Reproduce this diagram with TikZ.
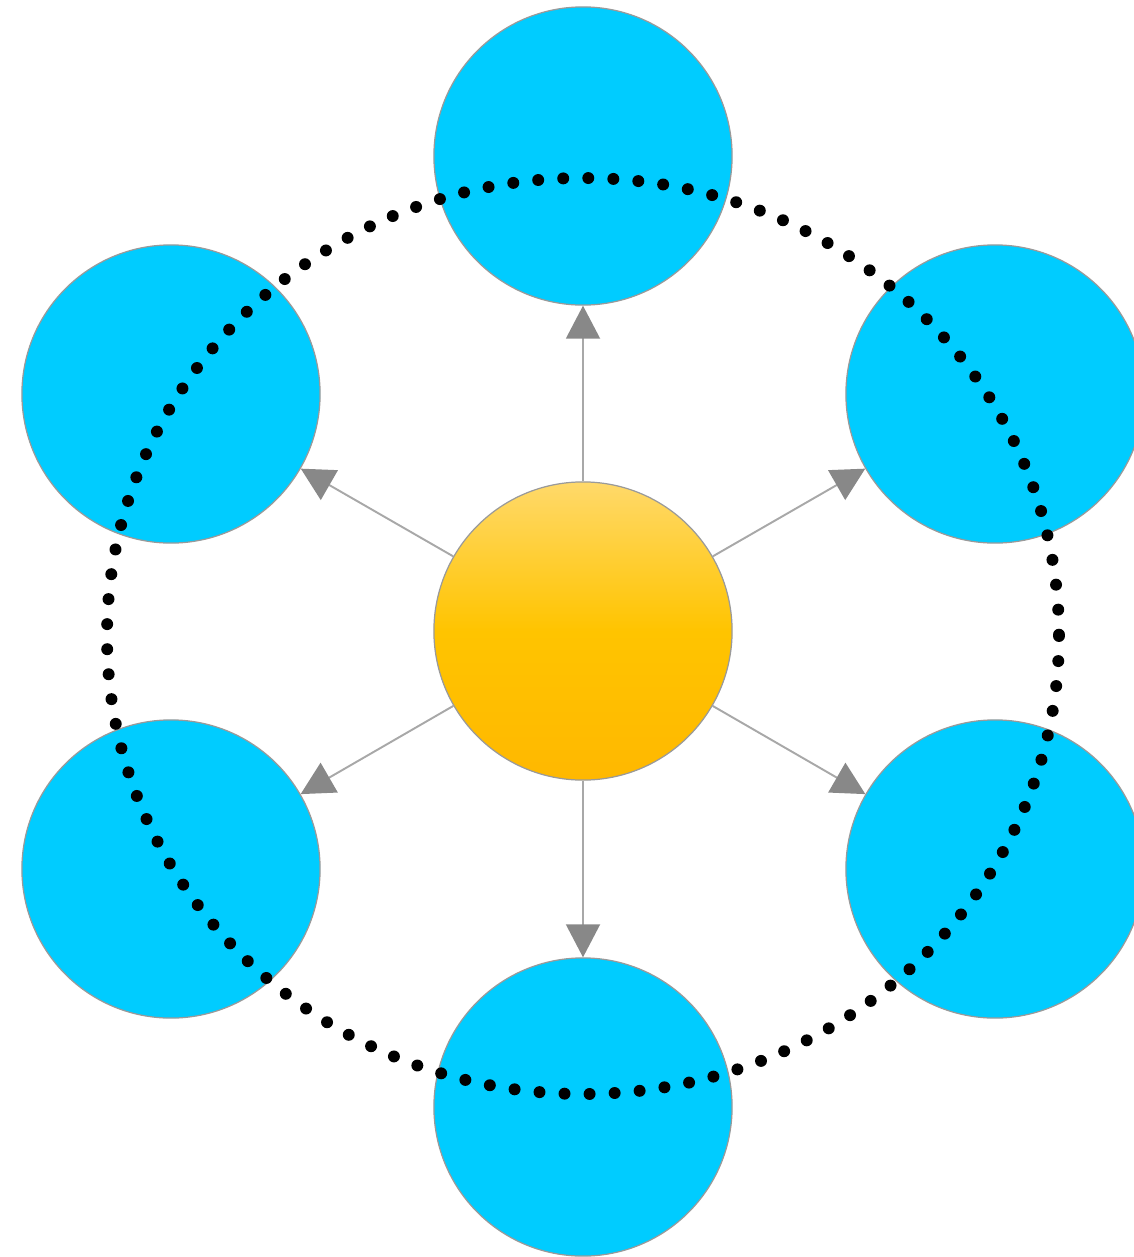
\documentclass[tikz,border=0pt]{standalone}
\usepackage{tikz}
\usetikzlibrary{arrows.meta}
\usepackage{xcolor}
\definecolor{skyblue}{HTML}{00CCFF}
\definecolor{rimgray}{HTML}{9A9A9A}
\definecolor{spokegray}{HTML}{A8A8A8}
\definecolor{tipgray}{HTML}{888888}
\definecolor{sunlight}{HTML}{FFD96A}
\definecolor{sunmid}{HTML}{FFC400}
\definecolor{sundark}{HTML}{FFB800}
\tikzset{
  planet/.style={circle, draw=rimgray, line width=0.35pt, fill=skyblue,
    minimum size=2.98cm, inner sep=0pt},
  sun/.style={circle, draw=rimgray, line width=0.35pt, minimum size=2.98cm,
    inner sep=0pt, top color=sunlight, bottom color=sundark, middle color=sunmid},
  spoke/.style={draw=spokegray, line width=0.55pt,
    -{Triangle[length=0.33cm,width=0.34cm,color=tipgray]}},
  orbit/.style={line width=3.4pt, line cap=round, dash pattern=on 0pt off 7.13pt}
}

\begin{document}
\begin{tikzpicture}[x=0.01cm,y=-0.01cm]
\useasboundingbox (0,0) rectangle (1134,1257);
\node[sun] (hub) at (583,631) {};
\node[planet] (top) at (583,156) {};
\node[planet] (upleft) at (171,394) {};
\node[planet] (upright) at (995,394) {};
\node[planet] (lowleft) at (171,869) {};
\node[planet] (lowright) at (995,869) {};
\node[planet] (bottom) at (583,1107) {};
\path[spoke] (hub) edge (top)
  (hub) edge (upleft)
  (hub) edge (upright)
  (hub) edge (lowleft)
  (hub) edge (lowright)
  (hub) edge (bottom);
\draw[orbit] (583,636) ellipse [x radius=476, y radius=458];
\end{tikzpicture}
\end{document}
